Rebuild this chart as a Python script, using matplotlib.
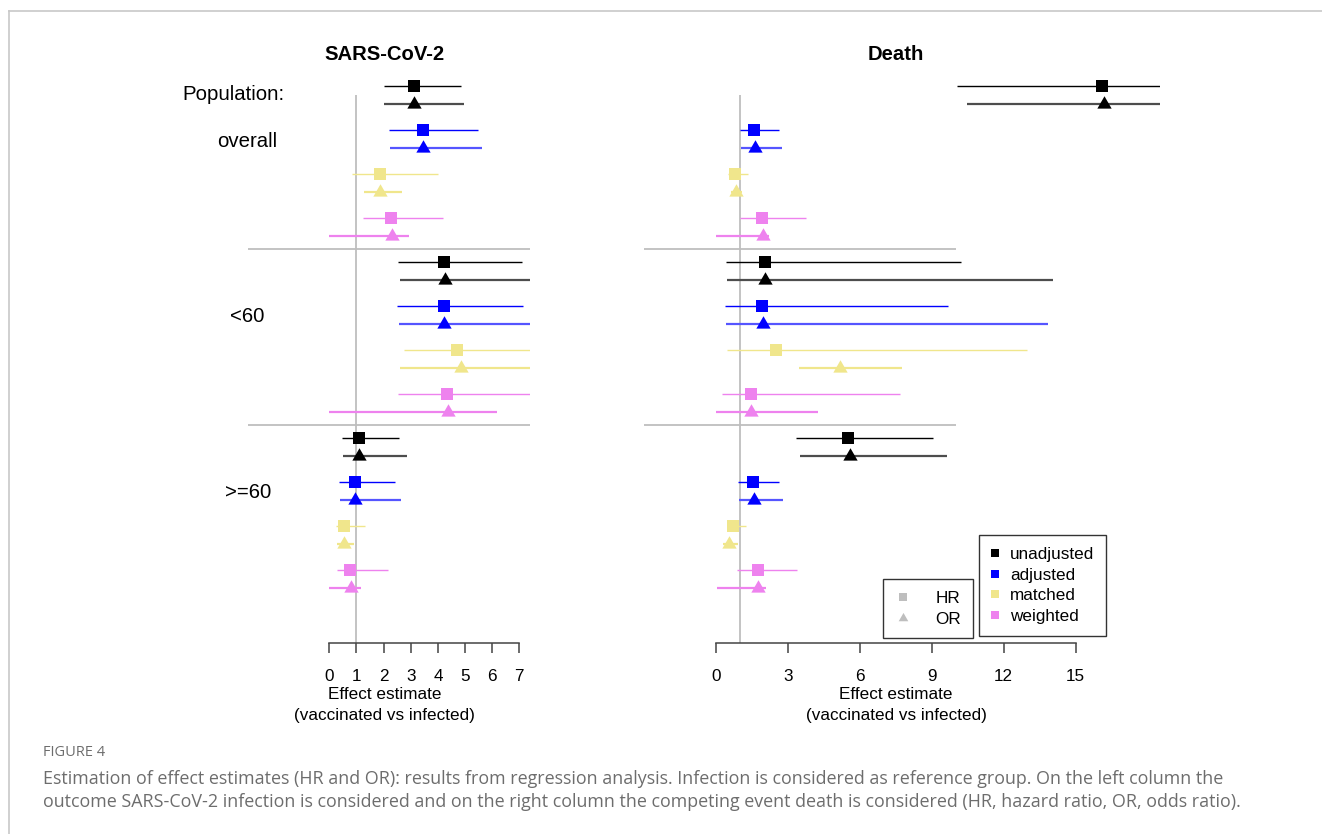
import matplotlib.pyplot as plt
import numpy as np
from matplotlib.lines import Line2D

plt.rcParams['font.family'] = ['Liberation Sans', 'DejaVu Sans']

groups = ['overall', '<60', '>=60']
methods = ['unadjusted', 'adjusted', 'matched', 'weighted']
colors = ['black', 'blue', 'khaki', 'violet']
or_colors = ['#4d4d4d', '#5555ff', '#f0e68c', '#ee82ee']

# SARS-CoV-2 panel, rows = population group, cols = method
sars_hr = [[3.12, 3.45, 1.86, 2.27], [4.24, 4.21, 4.69, 4.35], [1.09, 0.95, 0.55, 0.77]]
sars_hr_lo = [[2.02, 2.19, 0.85, 1.25], [2.53, 2.49, 2.75, 2.53], [0.46, 0.37, 0.25, 0.28]]
sars_hr_hi = [[4.84, 5.48, 4.02, 4.20], [7.10, 7.12, 8.80, 8.10], [2.58, 2.41, 1.32, 2.15]]
sars_or = [[3.11, 3.46, 1.86, 2.30], [4.25, 4.23, 4.84, 4.36], [1.08, 0.96, 0.53, 0.79]]
sars_or_lo = [[2.03, 2.24, 1.28, 0.00], [2.62, 2.58, 2.62, 0.00], [0.49, 0.39, 0.28, 0.00]]
sars_or_hi = [[4.96, 5.61, 2.68, 2.94], [8.30, 8.40, 9.20, 6.19], [2.85, 2.65, 0.92, 1.16]]

# Death panel
death_hr = [[16.08, 1.61, 0.82, 1.94], [2.05, 1.94, 2.51, 1.48], [5.50, 1.57, 0.73, 1.75]]
death_hr_lo = [[10.07, 1.01, 0.50, 1.01], [0.42, 0.40, 0.47, 0.28], [3.35, 0.92, 0.48, 0.89]]
death_hr_hi = [[25.5, 2.65, 1.36, 3.75], [10.21, 9.69, 12.96, 7.67], [9.04, 2.64, 1.25, 3.39]]
death_or = [[16.18, 1.62, 0.83, 1.96], [2.07, 1.98, 5.18, 1.48], [5.61, 1.60, 0.54, 1.78]]
death_or_lo = [[10.46, 1.04, 0.62, 0.03], [0.46, 0.44, 3.47, 0.00], [3.53, 0.98, 0.29, 0.04]]
death_or_hi = [[25.0, 2.76, 1.10, 2.23], [14.04, 13.85, 7.76, 4.25], [9.62, 2.79, 0.92, 2.08]]

W, H = 1322, 834
fig = plt.figure(figsize=(W / 100, H / 100), dpi=100)


def px_axes(x0, x1, y0, y1):
    return fig.add_axes([x0 / W, 1 - y1 / H, (x1 - x0) / W, (y1 - y0) / H])


# triangle centred on its centroid (like R pch 17)
tri = [(0, 1.155), (-1, -0.577), (1, -0.577), (0, 1.155)]

rows = np.arange(3)[:, None] * 4 + np.arange(4)[None, :]


def panel(ax, hr, hr_lo, hr_hi, od, od_lo, od_hi, xlim, ticks, sep_end, title, title_x):
    ax.set_xlim(*xlim)
    ax.set_ylim(12.66, -0.364)
    for s in ['left', 'top', 'right']:
        ax.spines[s].set_visible(False)
    ax.set_yticks([])
    ax.patch.set_alpha(0)

    ax.vlines(1, 0.2, 12.66, color='#bebebe', lw=1.3, zorder=1)
    ax.hlines([3.7, 7.7], -3.0, sep_end, color='#bebebe', lw=1.3, zorder=1)

    for m in range(4):
        y = rows[:, m]
        ax.hlines(y, np.array(hr_lo)[:, m], np.array(hr_hi)[:, m], color=colors[m], lw=1.0, zorder=2)
        ax.plot(np.array(hr)[:, m], y, ls='none', marker='s', ms=8.6, mew=0, color=colors[m], zorder=3)
        y2 = y + 0.4
        ax.hlines(y2, np.array(od_lo)[:, m], np.array(od_hi)[:, m], color=or_colors[m], lw=1.6, zorder=2)
        ax.plot(np.array(od)[:, m], y2, ls='none', marker=tri, ms=11.9, mew=0, color=colors[m], zorder=3)

    ax.spines['bottom'].set_bounds(ticks[0], ticks[-1])
    ax.spines['bottom'].set_color('#444444')
    ax.spines['bottom'].set_linewidth(1.1)
    ax.set_xticks(ticks)
    ax.tick_params(axis='x', length=7.2, width=1.1, color='#444444', pad=11.5, labelsize=12.3)
    ax.set_xlabel('Effect estimate\n(vaccinated vs infected)', fontsize=12.3, linespacing=1.45)
    ax.xaxis.set_label_coords(title_x, -0.077)
    ax.text(title_x, 1.027, title, transform=ax.transAxes, ha='center', va='center',
            fontsize=14.6, fontweight='bold')


ax1 = px_axes(247.9, 530.2, 70, 643)
panel(ax1, sars_hr, sars_hr_lo, sars_hr_hi, sars_or, sars_or_lo, sars_or_hi,
      (-3.0, 7.4), list(range(0, 8)), 7.4, 'SARS-CoV-2', 0.483)

ax2 = px_axes(643.7, 1159.7, 70, 643)
panel(ax2, death_hr, death_hr_lo, death_hr_hi, death_or, death_or_lo, death_or_hi,
      (-3.0, 18.5), [0, 3, 6, 9, 12, 15], 10.0, 'Death', 0.489)

ax1.text(-3.55, 0.2, 'Population:', ha='center', va='center', fontsize=14.7)
for g, name in enumerate(groups):
    ax1.text(-3.01, g * 4 + 1.25, name, ha='center', va='center', fontsize=14.7)

# legends
h_type = [Line2D([], [], ls='none', marker='s', ms=5.8, mew=0, color='#bebebe'),
          Line2D([], [], ls='none', marker=tri, ms=8.0, mew=0, color='#bebebe')]
leg1 = fig.legend(h_type, ['HR', 'OR'], loc='upper left',
                  bbox_to_anchor=(883 / W, 1 - 579 / H), bbox_transform=fig.transFigure,
                  fancybox=False, framealpha=1, edgecolor='#333333', borderaxespad=0,
                  borderpad=0.69, labelspacing=0.34, handlelength=0.98, handletextpad=1.39,
                  fontsize=12.3)
leg1.get_frame().set_linewidth(1.0)

h_meth = [Line2D([], [], ls='none', marker='s', ms=5.8, mew=0, color=c) for c in colors]
leg2 = fig.legend(h_meth, methods, loc='upper left',
                  bbox_to_anchor=(979 / W, 1 - 535 / H), bbox_transform=fig.transFigure,
                  fancybox=False, framealpha=1, edgecolor='#333333', borderaxespad=0,
                  borderpad=0.69, labelspacing=0.34, handlelength=0.5, handletextpad=0.63,
                  fontsize=12.3)
leg2.get_frame().set_linewidth(1.0)

# page frame
fig.add_artist(Line2D([9 / W, 9 / W], [0, 1 - 11 / H], transform=fig.transFigure, color='#c8c8c8', lw=1.2))
fig.add_artist(Line2D([9 / W, 1], [1 - 11 / H, 1 - 11 / H], transform=fig.transFigure, color='#c8c8c8', lw=1.2))

# caption
cap_font = ['Open Sans', 'DejaVu Sans']
fig.text(43 / W, 1 - 752 / H, 'FIGURE 4', color='#6d6d6d', fontsize=10.5, family=cap_font, va='center')
fig.text(43 / W, 1 - 779 / H,
         'Estimation of effect estimates (HR and OR): results from regression analysis. '
         'Infection is considered as reference group. On the left column the',
         color='#6d6d6d', fontsize=12.85, family=cap_font, va='center')
fig.text(43 / W, 1 - 802 / H,
         'outcome SARS-CoV-2 infection is considered and on the right column the competing '
         'event death is considered (HR, hazard ratio, OR, odds ratio).',
         color='#6d6d6d', fontsize=12.85, family=cap_font, va='center')

fig.savefig('out.png', dpi=100)
